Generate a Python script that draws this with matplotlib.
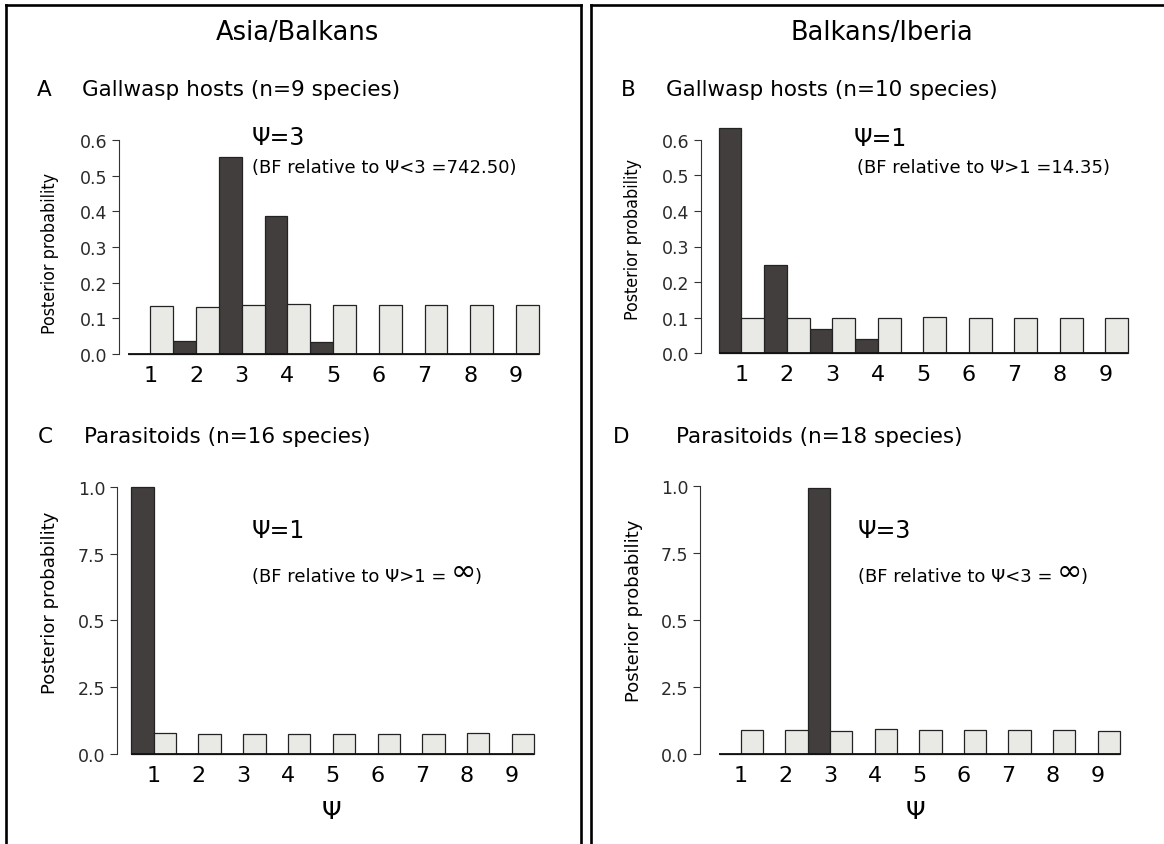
import matplotlib
matplotlib.use('Agg')
import matplotlib.pyplot as plt
from matplotlib.lines import Line2D
from matplotlib import font_manager
import numpy as np

W, H, DPI = 1164, 845, 100

# ------------------------------------------------------------------
# Data: posterior (dark) vs prior (light) for Psi
# ------------------------------------------------------------------
psi = np.arange(1, 10)
psi_labels = [str(v) for v in psi]

a_post = [0.0, 0.037, 0.552, 0.387, 0.033, 0.0, 0.0, 0.0, 0.0]
a_prior = [0.135, 0.133, 0.137, 0.140, 0.137, 0.137, 0.137, 0.138, 0.137]

b_post = [0.632, 0.249, 0.068, 0.040, 0.001, 0.002, 0.0, 0.0, 0.0]
b_prior = [0.099, 0.099, 0.099, 0.099, 0.101, 0.099, 0.099, 0.098, 0.098]

c_post = [1.0, 0.0, 0.0, 0.0, 0.0, 0.0, 0.0, 0.0, 0.0]
c_prior = [0.077, 0.075, 0.075, 0.075, 0.073, 0.075, 0.075, 0.079, 0.075]

d_post = [0.0, 0.0, 0.99, 0.0, 0.0, 0.0, 0.0, 0.0, 0.0]
d_prior = [0.089, 0.089, 0.087, 0.093, 0.089, 0.089, 0.089, 0.089, 0.087]

top_ticks = [0.0, 0.1, 0.2, 0.3, 0.4, 0.5, 0.6]
top_ticklabels = ['0.0', '0.1', '0.2', '0.3', '0.4', '0.5', '0.6']
bot_ticks = [0.0, 0.25, 0.5, 0.75, 1.0]
bot_ticklabels = ['0.0', '2.5', '0.5', '7.5', '1.0']   # as printed in the original

DARK = '#433e3e'
LIGHT = '#e9e9e5'
EDGE = '#232323'

plt.rcParams['font.family'] = ['DejaVu Sans']

# condensed face for the squeezed y-labels of the top row, if one exists
cond_kw = {'fontsize': 11.6}
for fam, stretch in [('DejaVu Sans', 'condensed'), ('Liberation Sans Narrow', 'normal')]:
    fp = font_manager.FontProperties(family=fam, stretch=stretch)
    try:
        path = font_manager.findfont(fp, fallback_to_default=False)
    except Exception:
        continue
    if 'Condensed' in path or 'Narrow' in path:
        cond_kw = {'fontproperties': font_manager.FontProperties(fname=path, size=12.8)}
        break

fig = plt.figure(figsize=(W / DPI, H / DPI), dpi=DPI)


def fx(x):
    return x / W


def fy(y):
    return 1 - y / H


def panel(a, b, c, d, xlim, ylim, post, prior, yticks, yticklabels):
    """a,b: pixel x = a + b*x ; c,d: pixel y = c - d*v (from top)."""
    left = a + b * xlim[0]
    right = a + b * xlim[1]
    top = c - d * ylim[1]
    bottom = c - d * ylim[0]
    ax = fig.add_axes([fx(left), fy(bottom), (right - left) / W, (bottom - top) / H])
    ax.patch.set_visible(False)
    ax.bar(psi - 0.25, post, width=0.5, color=DARK, edgecolor=EDGE,
           linewidth=0.9, clip_on=False, zorder=3)
    ax.bar(psi + 0.25, prior, width=0.5, color=LIGHT, edgecolor=EDGE,
           linewidth=0.9, clip_on=False, zorder=3)
    ax.hlines(0, 0.5, 9.5, color='#111111', linewidth=1.3, zorder=4, clip_on=False)
    ax.set_xlim(*xlim)
    ax.set_ylim(*ylim)
    for s in ['top', 'right', 'bottom']:
        ax.spines[s].set_visible(False)
    ax.spines['left'].set_bounds(yticks[0], yticks[-1])
    ax.spines['left'].set_linewidth(0.8)
    ax.spines['left'].set_color('#333333')
    ax.set_xticks(psi)
    ax.set_xticklabels(psi_labels)
    ax.tick_params(axis='x', length=0, pad=8, labelsize=16)
    ax.set_yticks(yticks)
    ax.set_yticklabels(yticklabels)
    ax.tick_params(axis='y', length=5, width=0.8, color='#333333', pad=3.5,
                   labelsize=12.5, labelcolor='#2a2a2a')
    return ax


ax_a = panel(104.65, 45.7, 355.0, 356.7, (0.315, 9.6), (0.0, 0.66),
             a_post, a_prior, top_ticks, top_ticklabels)
ax_b = panel(695.75, 45.5, 354.3, 356.0, (0.115, 9.6), (0.0, 0.66),
             b_post, b_prior, top_ticks, top_ticklabels)
ax_c = panel(108.9, 44.77, 755.0, 267.3, (0.19, 9.6), (0.0, 1.05),
             c_post, c_prior, bot_ticks, bot_ticklabels)
ax_d = panel(696.2, 44.6, 755.0, 268.3, (0.09, 9.6), (0.0, 1.05),
             d_post, d_prior, bot_ticks, bot_ticklabels)

# ------------------------------------------------------------------
# Frames around the two columns
# ------------------------------------------------------------------
for xs, ys in [([6, 6], [845, 6]), ([6, 581], [6, 6]), ([581, 581], [6, 845]),
               ([591, 591], [845, 6]), ([591, 1164], [6, 6])]:
    fig.add_artist(Line2D([fx(v) for v in xs], [fy(v) for v in ys],
                          color='black', linewidth=1.9, solid_capstyle='projecting'))

# ------------------------------------------------------------------
# Texts
# ------------------------------------------------------------------
fig.text(fx(297), fy(33), 'Asia/Balkans', fontsize=18.5, ha='center', va='center')
fig.text(fx(882), fy(33), 'Balkans/Iberia', fontsize=18.5, ha='center', va='center')

heads = [(37, 82, 90, 'A', 'Gallwasp hosts (n=9 species)'),
         (621, 666, 90, 'B', 'Gallwasp hosts (n=10 species)'),
         (38, 84, 437, 'C', 'Parasitoids (n=16 species)'),
         (613, 676, 437, 'D', 'Parasitoids (n=18 species)')]
for xl, xt, yc, letter, txt in heads:
    fig.text(fx(xl), fy(yc), letter, fontsize=15.5, ha='left', va='center')
    fig.text(fx(xt), fy(yc), txt, fontsize=15.5, ha='left', va='center')

# y labels
fig.text(fx(50), fy(253), 'Posterior probability', rotation=90,
         ha='center', va='center', **cond_kw)
fig.text(fx(633), fy(239), 'Posterior probability', rotation=90,
         ha='center', va='center', **cond_kw)
fig.text(fx(50), fy(603), 'Posterior probability', rotation=90,
         ha='center', va='center', fontsize=13)
fig.text(fx(634), fy(611), 'Posterior probability', rotation=90,
         ha='center', va='center', fontsize=13)

# x labels
fig.text(fx(331), fy(812), 'Ψ', fontsize=18, ha='center', va='center')
fig.text(fx(915), fy(812), 'Ψ', fontsize=18, ha='center', va='center')

# best-Psi annotations
fig.text(fx(252), fy(138), 'Ψ=3', fontsize=17, ha='left', va='center')
fig.text(fx(252), fy(168), '(BF relative to Ψ<3 =742.50)', fontsize=13,
         ha='left', va='center')
fig.text(fx(854), fy(139), 'Ψ=1', fontsize=17, ha='left', va='center')
fig.text(fx(857), fy(168), '(BF relative to Ψ>1 =14.35)', fontsize=13,
         ha='left', va='center')

fig.text(fx(252), fy(531), 'Ψ=1', fontsize=17, ha='left', va='center')
fig.text(fx(858), fy(531), 'Ψ=3', fontsize=17, ha='left', va='center')


def bf_infinity(ax, x, y, body):
    t = fig.text(fx(x), fy(y), body, fontsize=13, ha='left', va='center')
    inf = ax.annotate('∞', xy=(1, 0.5), xycoords=t, xytext=(3, 3.5),
                      textcoords='offset points', fontsize=22,
                      ha='left', va='center', annotation_clip=False)
    ax.annotate(')', xy=(1, 0.5), xycoords=(inf, t), xytext=(-1, 0),
                textcoords='offset points', fontsize=13,
                ha='left', va='center', annotation_clip=False)


bf_infinity(ax_c, 252, 577, '(BF relative to Ψ>1 =')
bf_infinity(ax_d, 858, 577, '(BF relative to Ψ<3 =')

fig.savefig('out.png', dpi=DPI)
